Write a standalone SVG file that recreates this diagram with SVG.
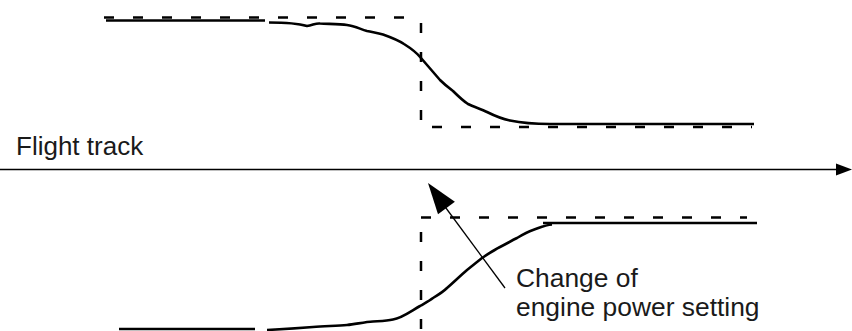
<svg xmlns="http://www.w3.org/2000/svg" width="852" height="331" viewBox="0 0 852 331">
<style>
.dash{fill:none;stroke:#000;stroke-width:2.5;stroke-dasharray:10 19}
.curve{fill:none;stroke:#000;stroke-width:2.6;stroke-linejoin:round;stroke-linecap:butt}
.thin{fill:none;stroke:#000;stroke-width:1.3}
.lbl{font-family:"Liberation Sans",Arial,sans-serif;font-size:26px;fill:#1a1a1a}
</style>
<rect width="852" height="331" fill="#fff"/>
<g id="upper-profile">
<path class="dash" d="M104,17.5 H410"/>
<path class="dash" d="M421,23 V127"/>
<path class="dash" d="M432,127 H752"/>
<path class="curve" d="M106,20.5 H265"/>
<path class="curve" d="M269,22.5 C280,22.5 295,22.5 307,26 C313,25 316,23 320,23.5 C330,24 340,24 347,25 C355,26 360,29 367,31 C374,32.5 378,33 383,34.5 C390,37 398,40 404,44 C412,49 417,53 421,58 C428,66 434,73 440,80 C445,85 449,88 453,91 C458,96 462,100 468,104 C474,107 481,109 487,112 C495,116 503,119 510,120.5 C522,123 536,124 550,124 H754"/>
</g>
<g id="lower-profile">
<path class="dash" d="M421,217.5 H747"/>
<path class="dash" d="M421,232 V331"/>
<path class="curve" d="M543,223 H757"/>
<path class="curve" d="M119,329 H255"/>
<path class="curve" d="M267,330 C285,329 300,328 313,327 C325,326 337,326 347,325 C356,324 365,322 373,321.5 C382,321 387,321 393,319.5 C402,318 411,311 420,306 C425,303 429,301 433,298 C438,295 443,292 447,288 C454,282 460,276 467,270 C472,266 477,262 482,258 C488,254 494,250 500,247 C506,244 511,241 517,238 C522,235 527,232 533,230 C539,228 545,225 552,224.5"/>
</g>
<g id="flight-track">
<text class="lbl" x="16" y="155">Flight track</text>
</g>
<g id="power-change-label">
<text class="lbl" x="516" y="287" style="font-size:26.4px">Change of</text>
<text class="lbl" x="516" y="316" style="font-size:26.4px">engine power setting</text>
</g>
<g id="connectors">
<path class="thin" d="M0,169.5 H838" style="stroke-width:1.6"/>
<polygon points="852,169.5 836,163.5 836,175.5" fill="#000"/>
<path class="thin" d="M505,288 L443,204"/>
<polygon points="428,183 438,214.2 454.9,201.8" fill="#000"/>
</g>
</svg>
